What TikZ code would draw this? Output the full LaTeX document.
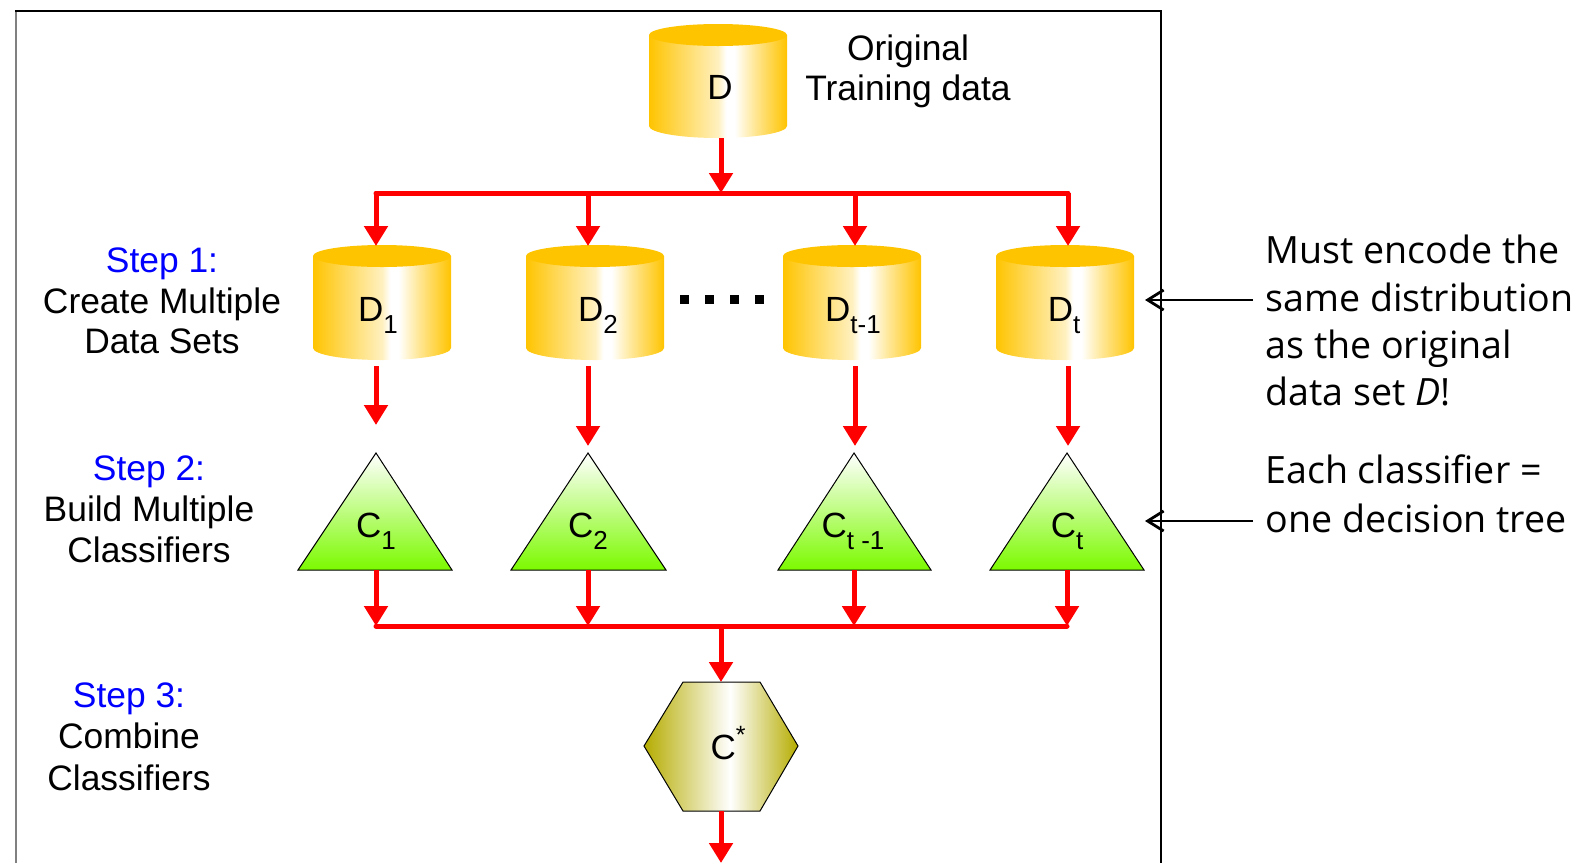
\documentclass[tikz,border=0pt]{standalone}
\usepackage{fontspec}
\setmainfont{Liberation Sans}
\newfontfamily\notefont{Open Sans}
\usetikzlibrary{arrows.meta}
\definecolor{cgold}{RGB}{255,196,0}
\definecolor{colive}{RGB}{181,172,0}
\definecolor{cgreen}{RGB}{124,250,0}
\definecolor{cred}{RGB}{255,0,0}
\definecolor{cblue}{RGB}{0,0,255}
\colorlet{cgoldA}{cgold!60!white}
\colorlet{cgoldB}{cgold!25!white}
\colorlet{cgoldC}{cgold!45!white}
\pgfdeclarehorizontalshading{cylshade}{100bp}{color(0bp)=(cgold); color(25bp)=(cgold); color(38bp)=(cgoldA); color(50bp)=(cgoldB); color(53bp)=(white); color(56bp)=(white); color(64bp)=(cgoldC); color(75bp)=(cgold); color(100bp)=(cgold)}
\pgfdeclarehorizontalshading{hexshade}{100bp}{color(0bp)=(colive); color(25bp)=(colive); color(53bp)=(white); color(75bp)=(colive); color(100bp)=(colive)}
\newcommand\mysub[1]{\raisebox{-6pt}{\fontsize{13}{14}\selectfont #1}}
% cx, top, bottom, halfwidth (pixel units)
\newcommand\cylshape[4]{%
  \shade[shading=cylshade] (#1-#4,#2+11) -- (#1-#4,#3-12)
    arc[start angle=180,end angle=360,x radius=#4*0.5pt,y radius=6pt]
    -- (#1+#4,#2+11) -- cycle;
  \fill[cgold] (#1,#2+11) ellipse[x radius=#4*0.5pt,y radius=5.5pt];
}
\begin{document}
\begin{tikzpicture}[x=0.5pt,y=-0.5pt,
  redarrow/.style={draw=cred,line width=2.5pt,-{Triangle[width=11.5pt,length=10pt]}},
  redline/.style={draw=cred,line width=2.5pt,line cap=round},
  notearrow/.style={draw=black,line width=1.4pt,-{Straight Barb[width=10pt,length=8pt]}},
  steplabel/.style={font=\fontsize{17.7}{20}\selectfont,anchor=base,inner sep=0},
  steptitle/.style={steplabel,text=cblue},
  shapelabel/.style={font=\fontsize{17.5}{20}\selectfont,anchor=base,inner sep=0},
  note/.style={font=\notefont\fontsize{18.8}{24}\selectfont,anchor=base west,inner sep=0},
  tree/.style={draw=black,line width=0.5pt,top color=white,bottom color=cgreen},
  dot/.style={fill=black}
]
\useasboundingbox (0,0) rectangle (1588,863);
% frame
\draw[line width=1.2pt,gray] (16,863) -- (16,11);
\draw[line width=0.8pt] (15,11) -- (1161,11) -- (1161,863);

% original data
\cylshape{718}{24}{138}{69}
\node[shapelabel] (D) at (720,99) {D};
\coordinate (Dbot) at (721,138);
\node[shapelabel,font=\fontsize{17.7}{20}\selectfont] (orig1) at (908,60) {Original};
\node[shapelabel,font=\fontsize{17.7}{20}\selectfont] (orig2) at (908,100) {Training data};

% data sets
\cylshape{382}{245}{360}{69}
\cylshape{595}{245}{360}{69}
\cylshape{852}{245}{360}{69}
\cylshape{1065}{245}{360}{69}
\node[shapelabel] (D1) at (378,321) {D\mysub{1}};
\node[shapelabel] (D2) at (598,321) {D\mysub{2}};
\node[shapelabel] (Dt1) at (853,321) {D\mysub{t-1}};
\node[shapelabel] (Dt) at (1064,321) {D\mysub{t}};
\foreach \x in {684,709,734,759}{\fill[dot] (\x-4.5,294.5) rectangle (\x+4.5,303.5);}

% classifiers
\draw[tree] (376,453) -- (452,570) -- (298,570) -- cycle;
\draw[tree] (588,453) -- (666,570) -- (511,570) -- cycle;
\draw[tree] (854,453) -- (931,570) -- (778,570) -- cycle;
\draw[tree] (1067,453) -- (1144,570) -- (990,570) -- cycle;
\node[shapelabel] (C1) at (376,537) {C\mysub{1}};
\node[shapelabel] (C2) at (588,537) {C\mysub{2}};
\node[shapelabel] (Ct1) at (853,537) {C\mysub{t -1}};
\node[shapelabel] (Ct) at (1067,537) {C\mysub{t}};

% combined
\shade[shading=hexshade,draw=black,line width=0.5pt] (683,682) -- (760,682) -- (798,746) -- (760,811) -- (683,811) -- (644,746) -- cycle;
\node[shapelabel] (Cstar) at (728,759) {C\raisebox{8pt}{\fontsize{12.5}{12}\selectfont *}};

% coordinates
\coordinate (busA) at (721,193);
\coordinate (busAl) at (376,193);
\coordinate (busAr) at (1068,193);
\foreach \n/\x in {1/376,2/588,3/855,4/1068}{
  \coordinate (ta\n) at (\x,193);
  \coordinate (tb\n) at (\x,246);
  \coordinate (ma\n) at (\x,366);
}
\coordinate (mb1) at (376,425);
\coordinate (mb2) at (588,446);
\coordinate (mb3) at (855,446);
\coordinate (mb4) at (1068,446);
\foreach \n/\x in {1/376,2/588,3/854,4/1067}{
  \coordinate (ba\n) at (\x,570);
  \coordinate (bb\n) at (\x,626);
}
\coordinate (busB) at (721,626);
\coordinate (hexTop) at (721,682);
\coordinate (hexBot) at (721,811);
\coordinate (out) at (721,863);

% red connectors
\draw[redarrow] (Dbot) -- (busA);
\draw[redline] (busAl) -- (busAr);
\foreach \n in {1,2,3,4}{
  \draw[redarrow] (ta\n) -- (tb\n);
  \draw[redarrow] (ma\n) -- (mb\n);
  \draw[redarrow] (ba\n) -- (bb\n);
}
\draw[redline] (bb1) -- (bb4);
\draw[redarrow] (busB) -- (hexTop);
\draw[redarrow] (hexBot) -- (out);

% step labels
\node[steptitle] (s1a) at (162,272) {Step 1:};
\node[steplabel] (s1b) at (162,313) {Create Multiple};
\node[steplabel] (s1c) at (162,353) {Data Sets};
\node[steptitle] (s2a) at (149,480) {Step 2:};
\node[steplabel] (s2b) at (149,521) {Build Multiple};
\node[steplabel] (s2c) at (149,562) {Classifiers};
\node[steptitle] (s3a) at (129,707) {Step 3:};
\node[steplabel] (s3b) at (129,748) {Combine};
\node[steplabel] (s3c) at (129,790) {Classifiers};

% notes
\node[note] (n1) at (1265,263) {Must encode the};
\node[note] (n2) at (1265,311) {same distribution};
\node[note] (n3) at (1265,358) {as the original};
\node[note] (n4) at (1265,405) {data set \textit{D}!};
\node[note] (n5) at (1265,483) {Each classifier =};
\node[note] (n6) at (1265,532) {one decision tree};
\coordinate (na1) at (1253,300);
\coordinate (nt1) at (1145,300);
\coordinate (na2) at (1253,521);
\coordinate (nt2) at (1145,521);
\draw[notearrow] (na1) -- (nt1);
\draw[notearrow] (na2) -- (nt2);
\end{tikzpicture}
\end{document}
